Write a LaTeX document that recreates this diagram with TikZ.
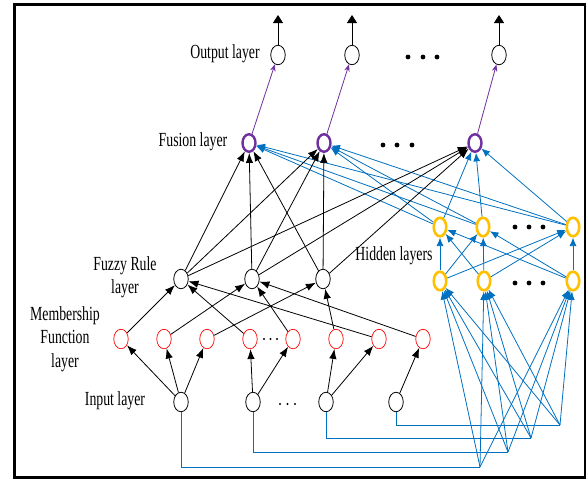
\documentclass[tikz,border=0pt]{standalone}
\usepackage{fontspec}
\setmainfont{Liberation Serif}[FakeStretch=0.69]
\usetikzlibrary{arrows.meta,shapes.geometric}
\definecolor{lblue}{RGB}{0,112,192}
\definecolor{fpurple}{RGB}{112,48,160}
\definecolor{hgold}{RGB}{255,192,0}
\begin{document}
\begin{tikzpicture}[x=1pt,y=-1pt,
  nd/.style={ellipse,draw,minimum width=14.5pt,minimum height=19.5pt,inner sep=0pt,line width=0.8pt},
  fus/.style={nd,draw=fpurple,line width=2.4pt,minimum width=13pt,minimum height=17.5pt},
  hid/.style={nd,draw=hgold,line width=2.6pt,minimum width=12.5pt,minimum height=18.5pt},
  mf/.style={nd,draw=red,line width=0.7pt},
  blk/.style={-{Latex[length=10pt,width=7.5pt]},line width=0.8pt},
  blu/.style={-{Latex[length=8.5pt,width=7pt]},draw=lblue,line width=0.8pt},
  bline/.style={draw=lblue,line width=0.8pt},
  pur/.style={-{Stealth[length=7pt,width=5.5pt]},draw=fpurple,line width=0.8pt},
  outarr/.style={-{Triangle[length=8pt,width=10pt]},line width=0.8pt},
  lbl/.style={font=\fontsize{20}{23.5}\selectfont,align=center,inner sep=0pt},
  bdot/.style={circle,fill,inner sep=0pt,minimum size=4.8pt},
  sdot/.style={circle,fill,inner sep=0pt,minimum size=2.2pt}]
\useasboundingbox (0,0) rectangle (587,479);
% frame
\draw[line width=3pt] (585,4.5) -- (14,4.5) -- (14,477.5) -- (585,477.5);
\draw[line width=1.5pt] (585,3) -- (585,479);

% labels
\node[lbl] (tout) at (225,54) {Output layer};
\node[lbl] (tfus) at (193,142) {Fusion layer};
\node[lbl] (trule) at (125,277) {Fuzzy Rule\\layer};
\node[lbl] (tmf) at (65,339) {Membership\\Function\\layer};
\node[lbl] (tin) at (115,401) {Input layer};
\node[lbl] (thid) at (394,256) {Hidden layers};

% output layer
\node[nd] (o1) at (278,55) {};
\node[nd] (o2) at (352,55) {};
\node[nd] (o3) at (499,55) {};
\coordinate (ot1) at (278,15);
\coordinate (ot2) at (352,15);
\coordinate (ot3) at (499,15);
\foreach \i in {1,2,3} \draw[outarr] (o\i) -- (ot\i);
\foreach \x [count=\k] in {408,423,437} \node[bdot] (od\k) at (\x,57) {};

% fusion layer
\node[fus] (f1) at (249,143) {};
\node[fus] (f2) at (324,143) {};
\node[fus] (f3) at (475,143) {};
\foreach \x [count=\k] in {383,397,412} \node[bdot] (fd\k) at (\x,145) {};

% rule layer
\node[nd] (r1) at (181,279) {};
\node[nd] (r2) at (252,279) {};
\node[nd] (r3) at (323,279) {};

% membership layer
\foreach \x [count=\k] in {121,164,207,250,293,336,379,423}
  \node[mf] (m\k) at (\x,339) {};
\foreach \x [count=\k] in {264,270.5,277} \node[sdot] (md\k) at (\x,339) {};

% input layer
\node[nd] (i1) at (181,402) {};
\node[nd] (i2) at (253,402) {};
\node[nd] (i3) at (326,402) {};
\node[nd] (i4) at (396,402) {};
\foreach \x [count=\k] in {280,287.5,295} \node[sdot] (id\k) at (\x,404) {};

% hidden layers
\node[hid] (hu1) at (440,227) {};
\node[hid] (hu2) at (483,227) {};
\node[hid] (hu3) at (573,227) {};
\node[hid] (hl1) at (440,281) {};
\node[hid] (hl2) at (484,281) {};
\node[hid] (hl3) at (573,281) {};
\foreach \x [count=\k] in {515,529,543} {
  \node[bdot] (hud\k) at (\x,227) {};
  \node[bdot] (hld\k) at (\x,283) {};
}

% input -> hidden routing
\coordinate (e1) at (480,467);
\coordinate (e2) at (508,452);
\coordinate (e3) at (531,438);
\coordinate (e4) at (560,425);
\foreach \i in {1,2,3,4} \draw[bline] (i\i.south) |- (e\i);
\foreach \i in {1,2,3,4} \foreach \h in {1,2,3} \draw[blu] (e\i) -- (hl\h);

% hidden lower -> upper
\foreach \l in {1,2,3} \foreach \u in {1,2,3} \draw[blu] (hl\l) -- (hu\u);
% hidden upper -> fusion
\foreach \u in {1,2,3} \foreach \f in {1,2,3} \draw[blu] (hu\u) -- (f\f);

% rule -> fusion
\foreach \r in {1,2,3} \foreach \f in {1,2,3} \draw[blk] (r\r) -- (f\f);

% fusion -> output
\foreach \i in {1,2,3} \draw[pur] (f\i) -- (o\i);

% membership -> rule
\draw[blk] (m1) -- (r1);
\draw[blk] (m4) -- (r1);
\draw[blk] (m7) -- (r1);
\draw[blk] (m2) -- (r2);
\draw[blk] (m5) -- (r2);
\draw[blk] (m8) -- (r2);
\draw[blk] (m3) -- (r3);
\draw[blk] (m6) -- (r3);

% input -> membership
\draw[blk] (i1) -- (m1);
\draw[blk] (i1) -- (m2);
\draw[blk] (i1) -- (m3);
\draw[blk] (i2) -- (m4);
\draw[blk] (i2) -- (m5);
\draw[blk] (i3) -- (m6);
\draw[blk] (i3) -- (m7);
\draw[blk] (i4) -- (m8);
\end{tikzpicture}
\end{document}
